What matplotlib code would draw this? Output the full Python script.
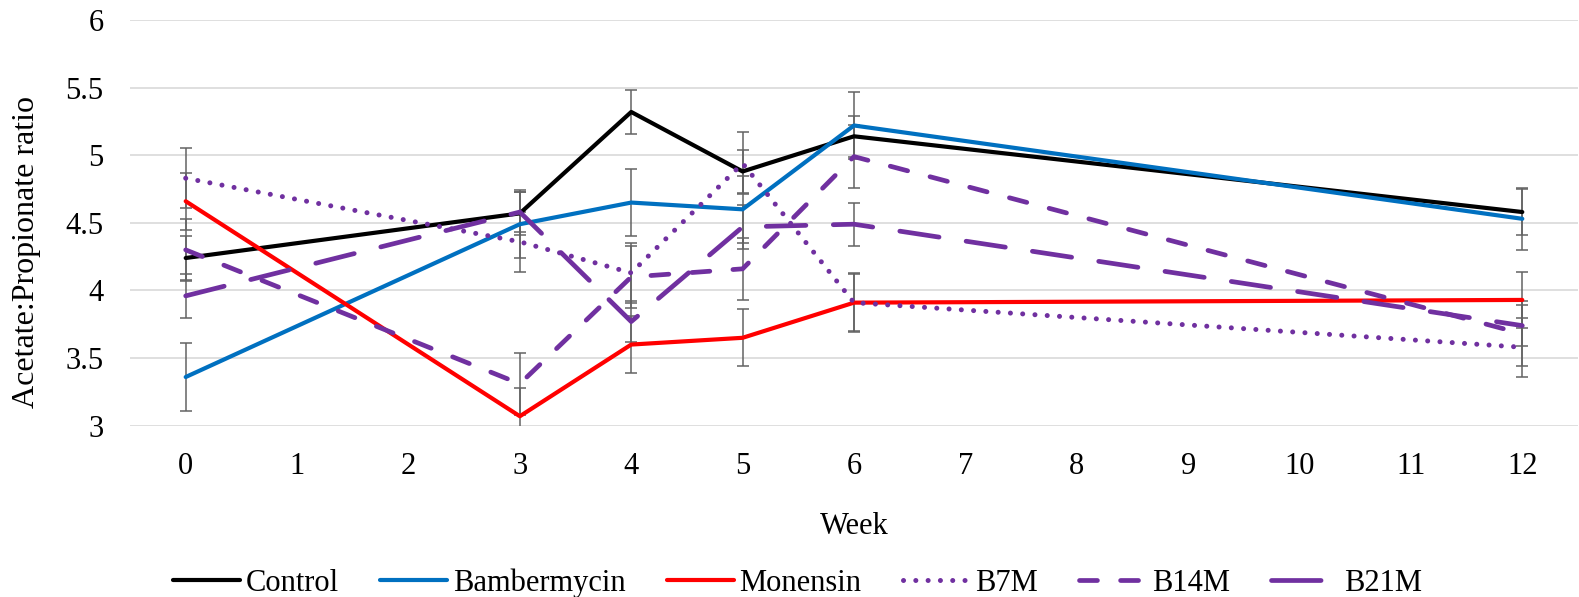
import numpy as np
import matplotlib.pyplot as plt

plt.rcParams['font.family'] = ['Liberation Serif', 'DejaVu Serif']

weeks = np.array([0, 3, 4, 5, 6, 12])
week_ticks = list(range(0, 13))

control = [4.24, 4.57, 5.32, 4.88, 5.14, 4.58]
bambermycin = [3.36, 4.49, 4.65, 4.60, 5.22, 4.53]
monensin = [4.66, 3.07, 3.60, 3.65, 3.91, 3.93]
b7m = [4.83, 4.36, 4.13, 4.94, 3.91, 3.58]
b14m = [4.30, 3.31, 4.10, 4.16, 4.99, 3.68]
b21m = [3.96, 4.58, 3.77, 4.47, 4.49, 3.74]

# standard errors
control_se = [0.16, 0.16, 0.16, 0.16, 0.15, 0.17]
bambermycin_se = [0.25, 0.25, 0.245, 0.25, 0.25, 0.23]
monensin_se = [0.21, 0.21, 0.21, 0.21, 0.21, 0.21]
b7m_se = [0.22, 0.22, 0.22, 0.23, 0.22, 0.22]
b14m_se = [0.23, 0.23, 0.23, 0.23, 0.23, 0.24]
b21m_se = [0.16, 0.15, 0.15, 0.16, 0.16, 0.15]

names = ['Control', 'Bambermycin', 'Monensin', 'B7M', 'B14M', 'B21M']
series = [control, bambermycin, monensin, b7m, b14m, b21m]
errors = [control_se, bambermycin_se, monensin_se, b7m_se, b14m_se, b21m_se]
colors = ['#000000', '#0070C0', '#FF0000', '#7030A0', '#7030A0', '#7030A0']
dashes = [None, None, None, (0.01, 2.45), (3.8, 4.9), (8.4, 5.8)]
widths = [3.0, 3.0, 3.0, 3.6, 3.4, 3.4]

fig = plt.figure(figsize=(15.79, 5.97), dpi=100)
ax = fig.add_axes([130/1579, 1-425.7/597, 1-131/1579, (425.7-20)/597])

for name, y, e, c, d, w in zip(names, series, errors, colors, dashes, widths):
    ax.errorbar(weeks, y, yerr=e, fmt='none', ecolor='#636363', elinewidth=1.1,
                capsize=4, capthick=1.1, zorder=3)
    line, = ax.plot(weeks, y, color=c, lw=w, label=name, zorder=4,
                    solid_capstyle='round', dash_capstyle='round')
    if d is not None:
        line.set_dashes(d)

ax.set_xlim(-0.5, 12.5)
ax.set_ylim(3, 6)
ax.set_xticks(week_ticks)
ax.set_yticks(np.arange(3, 6.01, 0.5))
ax.set_yticklabels(['3', '3.5', '4', '4.5', '5', '5.5', '6'])
ax.tick_params(axis='both', length=0, labelsize=22)
ax.tick_params(axis='y', pad=19)
ax.tick_params(axis='x', pad=19)
ax.grid(axis='y', color='#d9d9d9', lw=1.2)
ax.set_axisbelow(True)
for s in ax.spines.values():
    s.set_visible(False)

ax.set_xlabel('Week', fontsize=22, labelpad=22.5)
ax.set_ylabel('Acetate:Propionate ratio', fontsize=23)
ax.yaxis.set_label_coords(-89/1448, (425.7-252)/405.7)

leg = fig.legend(loc='center', bbox_to_anchor=(0.505, 1-583/597), ncol=6, frameon=False,
                 fontsize=22, handlelength=2.2, columnspacing=1.35, handletextpad=0.18)
# single long dash for the B21M key
leg.get_lines()[5].set_dashes((10.5, 8.0))

fig.savefig('out.png', dpi=100)
